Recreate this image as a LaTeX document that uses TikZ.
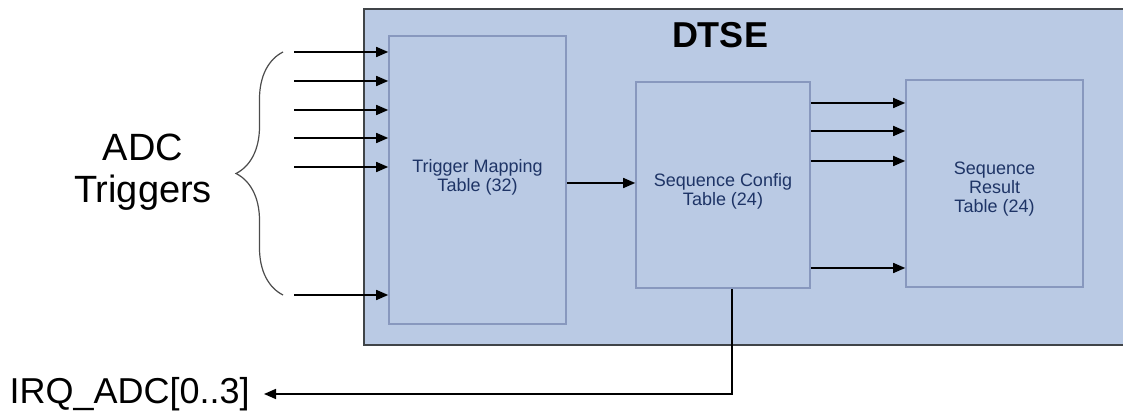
\documentclass[tikz,border=0pt]{standalone}
\usepackage{fontspec}
\setmainfont{Liberation Sans}
\usetikzlibrary{arrows.meta,decorations.pathreplacing}

\definecolor{dtsefill}{HTML}{BACAE4}
\definecolor{dtseline}{HTML}{404448}
\definecolor{tableline}{HTML}{8898BE}
\definecolor{tabletext}{HTML}{1E3466}

\begin{document}
\begin{tikzpicture}[x=0.5pt,y=0.5pt,
  table/.style={draw=tableline,fill=dtsefill,line width=0.8pt,inner sep=0pt},
  tabletitle/.style={text=tabletext,align=center,font=\fontsize{9}{9.6}\selectfont},
  sig/.style={-{Triangle[length=6pt,width=5pt]},line width=0.8pt}]
  \useasboundingbox (0,0) rectangle (1123,416);

  % DTSE block, open on the right
  \node[fill=dtsefill,minimum width=379.5pt,minimum height=167.5pt,inner sep=0pt,
    anchor=south west] (dtse) at (364,71) {};
  \draw[dtseline,line width=0.9pt] (dtse.north east) -- (dtse.north west)
    -- (dtse.south west) -- (dtse.south east);
  \node[font=\fontsize{18}{20}\selectfont\bfseries] (dtsetitle) at (720,381) {DTSE};

  % tables
  \node[table,minimum width=88.5pt,minimum height=144pt,
    label={[tabletitle,yshift=1.5pt]center:Trigger Mapping\\Table (32)}] (tm) at (477.5,236) {};
  \node[table,minimum width=87pt,minimum height=103pt,
    label={[tabletitle,yshift=-3pt]center:Sequence Config\\Table (24)}] (sc) at (723,231) {};
  \node[table,minimum width=88.5pt,minimum height=103.5pt,
    label={[tabletitle,yshift=-2.7pt]center:Sequence\\Result\\Table (24)}] (sr) at (994.5,232.5) {};

  % trigger inputs
  \foreach \y [count=\i] in {364,335,306,278,249,121} {
    \coordinate (trig\i) at (294,\y);
    \draw[sig] (trig\i) -- (trig\i -| tm.west);
  }
  \draw[decorate,decoration={brace,amplitude=23.5pt},gray!60!black,line width=0.6pt]
    (283,121) -- (283,364);
  \node[align=center,font=\fontsize{19}{21}\selectfont] (trig) at (143,244) {ADC\\Triggers};

  % table links
  \draw[sig] (tm.east |- 0,233) -- (sc.west |- 0,233);
  \foreach \y in {313,285,255,148}
    \draw[sig] (sc.east |- 0,\y) -- (sr.west |- 0,\y);

  % interrupt output
  \node[anchor=east,inner sep=7pt,font=\fontsize{18}{20}\selectfont] (irq) at (264,22)
    {IRQ\_ADC[0..3]};
  \draw[sig] (sc.south -| 732,0) |- (irq.east);
\end{tikzpicture}
\end{document}
